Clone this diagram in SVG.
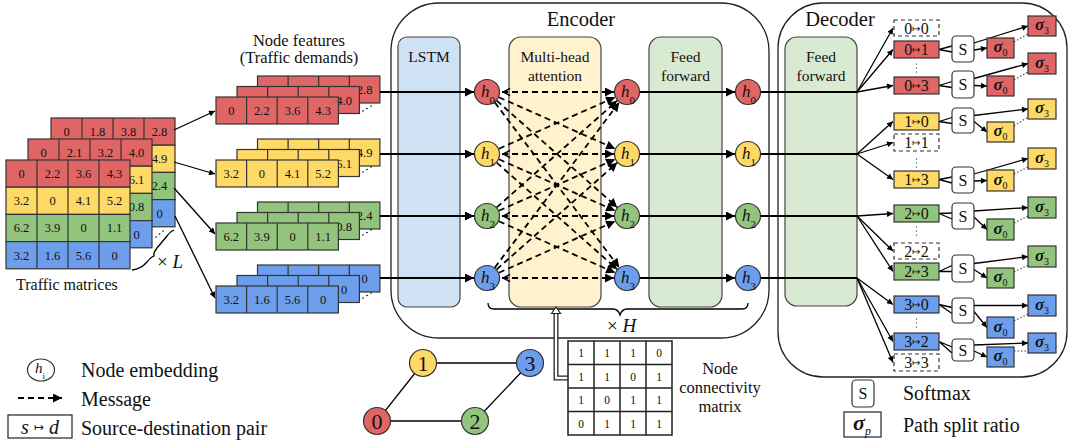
<svg xmlns="http://www.w3.org/2000/svg" xmlns:xlink="http://www.w3.org/1999/xlink" width="1069" height="443" viewBox="0 0 1069 443" font-family="'Liberation Serif','DejaVu Serif',serif">
<style>
text{font-family:"Liberation Serif","DejaVu Serif",serif;fill:#111}
.num{font-size:12.5px;text-anchor:middle}
.cb{stroke:#333;stroke-width:1.2}
.R{fill:#e06666}.Y{fill:#ffd966}.G{fill:#93c47d}.B{fill:#6d9eeb}
.gl{stroke:#333;stroke-width:1.2}
.blk{fill:none;stroke:#222;stroke-width:1.3}
.ln{fill:none;stroke:#000;stroke-width:2}
.thin{fill:none;stroke:#000;stroke-width:1.3}
.msg{fill:none;stroke:#000;stroke-width:1.8;stroke-dasharray:6 4}
.hn{stroke:#333;stroke-width:1.2}
.hl{font-size:17px;font-style:italic}
.hs{font-size:11px;font-style:normal}
.lbl{font-size:15.5px;text-anchor:middle}
.big{font-size:20.5px;text-anchor:middle}
.leg{font-size:20px}
.pb{stroke:#333;stroke-width:1.2}
.pbd{fill:#fff;stroke:#333;stroke-width:1.2;stroke-dasharray:4 3}
.pt{font-size:16px;text-anchor:middle}
.mt{font-family:"DejaVu Sans",sans-serif;font-size:10px}
.sb{fill:#fff;stroke:#333;stroke-width:1.2}
.st{font-size:16px;text-anchor:middle}
.sig{font-size:17px;font-weight:bold;font-style:italic;text-anchor:middle}
.ss{font-size:10px;font-weight:normal;font-style:normal}
.dot{fill:#000;stroke:none}
.dl{fill:none;stroke:#444;stroke-width:1.1;stroke-dasharray:1.5 2}
</style>
<defs>
<marker id="ah" viewBox="0 0 10 10" refX="10" refY="5" markerWidth="12" markerHeight="9" markerUnits="userSpaceOnUse" orient="auto"><path d="M0,0 L10,5 L0,10 z" fill="#000"/></marker>
<marker id="ahd" viewBox="0 0 10 10" refX="10" refY="5" markerWidth="11" markerHeight="9" markerUnits="userSpaceOnUse" orient="auto"><path d="M0,0 L10,5 L0,10 z" fill="#000"/></marker>
<marker id="ahs" viewBox="0 0 10 10" refX="10" refY="5" markerWidth="8" markerHeight="6" markerUnits="userSpaceOnUse" orient="auto"><path d="M0,0 L10,5 L0,10 z" fill="#000"/></marker>
<marker id="chev" viewBox="0 0 10 10" refX="0" refY="5" markerWidth="9" markerHeight="9" markerUnits="userSpaceOnUse" orient="auto"><path d="M9,1 L1,5 L9,9" fill="none" stroke="#000" stroke-width="1.6"/></marker>
<g id="tm-grid">
<rect class="R cb" x="0" y="0" width="124" height="27.2"/>
<rect class="Y cb" x="0" y="27.2" width="124" height="27.2"/>
<rect class="G cb" x="0" y="54.4" width="124" height="27.2"/>
<rect class="B cb" x="0" y="81.6" width="124" height="27.2"/>
<path class="gl" d="M31,0V108.8M62,0V108.8M93,0V108.8"/>
</g>
<path id="nf-lines" class="gl" d="M30.6,0V27M61.2,0V27M91.8,0V27"/>
</defs>
<rect width="1069" height="443" fill="#fff"/>

<!-- Traffic matrices -->
<g id="traffic-matrices">
<use xlink:href="#tm-grid" x="51" y="118"/>
<text class="num" x="66.5" y="136">0</text><text class="num" x="97.5" y="136">1.8</text><text class="num" x="128.5" y="136">3.8</text><text class="num" x="159.5" y="136">2.8</text>
<text class="num" x="159.5" y="163.2">4.9</text><text class="num" x="159.5" y="190.4">2.4</text><text class="num" x="159.5" y="217.6">0</text>
<use xlink:href="#tm-grid" x="28" y="139"/>
<text class="num" x="43.5" y="157">0</text><text class="num" x="74.5" y="157">2.1</text><text class="num" x="105.5" y="157">3.2</text><text class="num" x="136.5" y="157">4.0</text>
<text class="num" x="136.5" y="184.2">6.1</text><text class="num" x="136.5" y="211.4">0.8</text><text class="num" x="136.5" y="238.6">0</text>
<use xlink:href="#tm-grid" x="6" y="160"/>
<text class="num" x="21.5" y="178">0</text><text class="num" x="52.5" y="178">2.2</text><text class="num" x="83.5" y="178">3.6</text><text class="num" x="114.5" y="178">4.3</text>
<text class="num" x="21.5" y="205.2">3.2</text><text class="num" x="52.5" y="205.2">0</text><text class="num" x="83.5" y="205.2">4.1</text><text class="num" x="114.5" y="205.2">5.2</text>
<text class="num" x="21.5" y="232.4">6.2</text><text class="num" x="52.5" y="232.4">3.9</text><text class="num" x="83.5" y="232.4">0</text><text class="num" x="114.5" y="232.4">1.1</text>
<text class="num" x="21.5" y="259.6">3.2</text><text class="num" x="52.5" y="259.6">1.6</text><text class="num" x="83.5" y="259.6">5.6</text><text class="num" x="114.5" y="259.6">0</text>
<circle class="dot" cx="156" cy="237" r="0.8"/><circle class="dot" cx="159.5" cy="234" r="0.8"/><circle class="dot" cx="163" cy="231" r="0.8"/>
<path class="thin" stroke-width="1" d="M132,270 Q141,269 147,262 Q151,257 154,256 Q153,253 157,248 L167,236 Q171,231 174,230"/>
<text x="157" y="268" style="font-size:19px">× <tspan font-style="italic">L</tspan></text>
<text x="16" y="290" style="font-size:16px">Traffic matrices</text>
</g>

<!-- Node features -->
<g id="node-features">
<text x="299" y="46" style="font-size:16.5px" text-anchor="middle">Node features</text>
<text x="299" y="63" style="font-size:16.5px" text-anchor="middle">(Traffic demands)</text>
<rect class="R cb" x="257.5" y="76" width="122.4" height="27"/><use xlink:href="#nf-lines" x="257.5" y="76"/>
<text class="num" x="364.6" y="94">2.8</text>
<rect class="R cb" x="237" y="86.5" width="122.4" height="27"/><use xlink:href="#nf-lines" x="237" y="86.5"/>
<text class="num" x="344.1" y="104.5">4.0</text>
<rect class="R cb" x="216" y="97" width="122.4" height="27"/><use xlink:href="#nf-lines" x="216" y="97"/>
<text class="num" x="231.3" y="115">0</text><text class="num" x="261.9" y="115">2.2</text><text class="num" x="292.5" y="115">3.6</text><text class="num" x="323.1" y="115">4.3</text>
<rect class="Y cb" x="257.5" y="139" width="122.4" height="27"/><use xlink:href="#nf-lines" x="257.5" y="139"/>
<text class="num" x="364.6" y="157">4.9</text>
<rect class="Y cb" x="237" y="149.5" width="122.4" height="27"/><use xlink:href="#nf-lines" x="237" y="149.5"/>
<text class="num" x="344.1" y="167.5">6.1</text>
<rect class="Y cb" x="216" y="160" width="122.4" height="27"/><use xlink:href="#nf-lines" x="216" y="160"/>
<text class="num" x="231.3" y="178">3.2</text><text class="num" x="261.9" y="178">0</text><text class="num" x="292.5" y="178">4.1</text><text class="num" x="323.1" y="178">5.2</text>
<rect class="G cb" x="257.5" y="202" width="122.4" height="27"/><use xlink:href="#nf-lines" x="257.5" y="202"/>
<text class="num" x="364.6" y="220">2.4</text>
<rect class="G cb" x="237" y="212.5" width="122.4" height="27"/><use xlink:href="#nf-lines" x="237" y="212.5"/>
<text class="num" x="344.1" y="230.5">0.8</text>
<rect class="G cb" x="216" y="223" width="122.4" height="27"/><use xlink:href="#nf-lines" x="216" y="223"/>
<text class="num" x="231.3" y="241">6.2</text><text class="num" x="261.9" y="241">3.9</text><text class="num" x="292.5" y="241">0</text><text class="num" x="323.1" y="241">1.1</text>
<rect class="B cb" x="257.5" y="265" width="122.4" height="27"/><use xlink:href="#nf-lines" x="257.5" y="265"/>
<text class="num" x="364.6" y="283">0</text>
<rect class="B cb" x="237" y="275.5" width="122.4" height="27"/><use xlink:href="#nf-lines" x="237" y="275.5"/>
<text class="num" x="344.1" y="293.5">0</text>
<rect class="B cb" x="216" y="286" width="122.4" height="27"/><use xlink:href="#nf-lines" x="216" y="286"/>
<text class="num" x="231.3" y="304">3.2</text><text class="num" x="261.9" y="304">1.6</text><text class="num" x="292.5" y="304">5.6</text><text class="num" x="323.1" y="304">0</text>
<g>
<circle class="dot" cx="363" cy="111" r="0.8"/><circle class="dot" cx="367" cy="108.5" r="0.8"/><circle class="dot" cx="371" cy="106" r="0.8"/>
<circle class="dot" cx="363" cy="172" r="0.8"/><circle class="dot" cx="367" cy="169.5" r="0.8"/><circle class="dot" cx="371" cy="167" r="0.8"/>
<circle class="dot" cx="363" cy="235" r="0.8"/><circle class="dot" cx="367" cy="232.5" r="0.8"/><circle class="dot" cx="371" cy="230" r="0.8"/>
<circle class="dot" cx="363" cy="298" r="0.8"/><circle class="dot" cx="367" cy="295.5" r="0.8"/><circle class="dot" cx="371" cy="293" r="0.8"/>
</g>
</g>

<!-- Encoder -->
<g id="encoder">
<rect class="blk" x="391" y="3" width="378" height="335" rx="48"/>
<text class="big" x="581" y="26">Encoder</text>
<rect x="398" y="37" width="62" height="270" rx="9" fill="#cfe2f3" stroke="#444" stroke-width="1.2"/>
<text class="lbl" x="429" y="62">LSTM</text>
<rect x="509" y="37" width="92" height="270" rx="12" fill="#fff2cc" stroke="#444" stroke-width="1.2"/>
<text class="lbl" x="555" y="62">Multi-head</text>
<text class="lbl" x="555" y="81">attention</text>
<rect x="649" y="37" width="73" height="270" rx="12" fill="#d9ead3" stroke="#444" stroke-width="1.2"/>
<text class="lbl" x="685.5" y="62">Feed</text>
<text class="lbl" x="685.5" y="81">forward</text>
<path class="thin" stroke-width="1.2" d="M488,303 Q488,309 494,309 L613,309 Q618,309 620,315 Q622,309 627,309 L742,309 Q748,309 748,303"/>
<text x="607" y="332" style="font-size:19px">× <tspan font-style="italic">H</tspan></text>
</g>

<!-- Decoder frame -->
<g id="decoder">
<rect class="blk" x="778" y="3" width="289" height="374" rx="45"/>
<text class="big" x="840" y="26">Decoder</text>
<rect x="785" y="37" width="72" height="269" rx="12" fill="#d9ead3" stroke="#444" stroke-width="1.2"/>
<text class="lbl" x="821" y="62">Feed</text>
<text class="lbl" x="821" y="81">forward</text>
</g>

<!-- Connectors -->
<g id="connectors">
<line class="thin" x1="174" y1="130" x2="215" y2="111" marker-end="url(#ahs)"/>
<line class="thin" x1="174" y1="162" x2="215" y2="174" marker-end="url(#ahs)"/>
<line class="thin" x1="174" y1="188" x2="215" y2="234" marker-end="url(#ahs)"/>
<line class="thin" x1="175" y1="216" x2="215" y2="298" marker-end="url(#ahs)"/>

<line class="ln" x1="380" y1="92" x2="474" y2="92" marker-end="url(#ah)"/>
<line class="ln" x1="380" y1="154" x2="474" y2="154" marker-end="url(#ah)"/>
<line class="ln" x1="380" y1="216" x2="474" y2="216" marker-end="url(#ah)"/>
<line class="ln" x1="380" y1="278" x2="474" y2="278" marker-end="url(#ah)"/>

<g marker-end="url(#ahd)">
<line class="msg" x1="502" y1="92" x2="614" y2="92" marker-start="url(#chev)"/>
<line class="msg" x1="502" y1="154" x2="614" y2="154" marker-start="url(#chev)"/>
<line class="msg" x1="502" y1="216" x2="614" y2="216" marker-start="url(#chev)"/>
<line class="msg" x1="502" y1="278" x2="614" y2="278" marker-start="url(#chev)"/>
<line class="msg" x1="498.9" y1="97.3" x2="615.1" y2="148.7"/>
<line class="msg" x1="496.7" y1="100.6" x2="617.3" y2="207.4"/>
<line class="msg" x1="494.8" y1="102.4" x2="619.2" y2="267.6"/>
<line class="msg" x1="498.9" y1="148.7" x2="615.1" y2="97.3"/>
<line class="msg" x1="498.9" y1="159.3" x2="615.1" y2="210.7"/>
<line class="msg" x1="496.7" y1="162.6" x2="617.3" y2="269.4"/>
<line class="msg" x1="496.7" y1="207.4" x2="617.3" y2="100.6"/>
<line class="msg" x1="498.9" y1="210.7" x2="615.1" y2="159.3"/>
<line class="msg" x1="498.9" y1="221.3" x2="615.1" y2="272.7"/>
<line class="msg" x1="494.8" y1="267.6" x2="619.2" y2="102.4"/>
<line class="msg" x1="496.7" y1="269.4" x2="617.3" y2="162.6"/>
<line class="msg" x1="498.9" y1="272.7" x2="615.1" y2="221.3"/>
</g>

<line class="ln" x1="640" y1="92" x2="735" y2="92" marker-end="url(#ah)"/>
<line class="ln" x1="640" y1="154" x2="735" y2="154" marker-end="url(#ah)"/>
<line class="ln" x1="640" y1="216" x2="735" y2="216" marker-end="url(#ah)"/>
<line class="ln" x1="640" y1="278" x2="735" y2="278" marker-end="url(#ah)"/>

<line class="ln" x1="761" y1="92" x2="857" y2="92"/>
<line class="ln" x1="761" y1="154" x2="857" y2="154"/>
<line class="ln" x1="761" y1="216" x2="857" y2="216"/>
<line class="ln" x1="761" y1="278" x2="857" y2="278"/>

<g marker-end="url(#ahs)">
<line class="thin" x1="857" y1="92" x2="893" y2="28"/>
<line class="thin" x1="857" y1="92" x2="893" y2="49.5"/>
<line class="thin" x1="857" y1="92" x2="893" y2="85.5"/>
<line class="thin" x1="857" y1="154" x2="893" y2="121.5"/>
<line class="thin" x1="857" y1="154" x2="893" y2="142.5"/>
<line class="thin" x1="857" y1="154" x2="893" y2="179.5"/>
<line class="thin" x1="857" y1="216" x2="893" y2="213.5"/>
<line class="thin" x1="857" y1="216" x2="893" y2="251"/>
<line class="thin" x1="857" y1="216" x2="893" y2="271.5"/>
<line class="thin" x1="857" y1="278" x2="893" y2="304.5"/>
<line class="thin" x1="857" y1="278" x2="893" y2="341.5"/>
<line class="thin" x1="857" y1="278" x2="893" y2="362.5"/>
</g>

<path class="thin" stroke-width="1.1" d="M939,49.5 L952,46 M939,49.5 L952,52 M939,85.5 L952,81.5 M939,85.5 L952,87.5 M939,121.5 L952,117.5 M939,121.5 L952,123.5 M939,179.5 L952,177 M939,179.5 L952,183 M939,213.5 L952,213 M939,213.5 L952,219 M939,271.5 L952,265.5 M939,271.5 L952,271.5 M939,304.5 L952,307.5 M939,304.5 L952,313.5 M939,341.5 L952,347 M939,341.5 L952,353"/>
<g marker-end="url(#ahs)">
<line class="thin" stroke-width="1.1" x1="974" y1="43" x2="1028" y2="26"/>
<line class="thin" stroke-width="1.1" x1="974" y1="50" x2="987" y2="48"/>
<line class="thin" stroke-width="1.1" x1="974" y1="78.5" x2="1028" y2="63.5"/>
<line class="thin" stroke-width="1.1" x1="974" y1="85.5" x2="987" y2="86"/>
<line class="thin" stroke-width="1.1" x1="974" y1="115.5" x2="1028" y2="109"/>
<line class="thin" stroke-width="1.1" x1="974" y1="121.5" x2="987" y2="132"/>
<line class="thin" stroke-width="1.1" x1="974" y1="174" x2="1028" y2="158.5"/>
<line class="thin" stroke-width="1.1" x1="974" y1="181" x2="987" y2="180.5"/>
<line class="thin" stroke-width="1.1" x1="974" y1="211" x2="1028" y2="207.5"/>
<line class="thin" stroke-width="1.1" x1="974" y1="217" x2="987" y2="229.5"/>
<line class="thin" stroke-width="1.1" x1="974" y1="263.5" x2="1028" y2="256.5"/>
<line class="thin" stroke-width="1.1" x1="974" y1="269.5" x2="987" y2="278"/>
<line class="thin" stroke-width="1.1" x1="974" y1="305.5" x2="1028" y2="305.5"/>
<line class="thin" stroke-width="1.1" x1="974" y1="311.5" x2="987" y2="327.5"/>
<line class="thin" stroke-width="1.1" x1="974" y1="345" x2="1028" y2="343"/>
<line class="thin" stroke-width="1.1" x1="974" y1="351" x2="987" y2="357"/>
</g>
<path class="dl" d="M1014,42L1028,34M1014,80L1028,72M1014,126L1028,117M1014,174L1028,167M1014,223L1028,216M1014,272L1028,265M1014,321L1028,314M1014,351L1028,351"/>

<path d="M568,378 L556,378 L556,312" fill="none" stroke="#222" stroke-width="5"/>
<path d="M568,378 L556,378 L556,312" fill="none" stroke="#fff" stroke-width="2.4"/>
<path d="M551.5,313.5 L556,307 L560.5,313.5 Z" fill="#fff" stroke="#222" stroke-width="1.2"/>
</g>

<!-- h nodes -->
<g id="h-col1">
<circle class="hn R" cx="487" cy="92" r="12.5"/><text class="hl" x="481" y="96.5">h<tspan class="hs" dy="7">0</tspan></text>
<circle class="hn Y" cx="487" cy="154" r="12.5"/><text class="hl" x="481" y="158.5">h<tspan class="hs" dy="7">1</tspan></text>
<circle class="hn G" cx="487" cy="216" r="12.5"/><text class="hl" x="481" y="220.5">h<tspan class="hs" dy="7">2</tspan></text>
<circle class="hn B" cx="487" cy="278" r="12.5"/><text class="hl" x="481" y="282.5">h<tspan class="hs" dy="7">3</tspan></text>
</g>
<g id="h-col2">
<circle class="hn R" cx="627" cy="92" r="12.5"/><text class="hl" x="621" y="96.5">h<tspan class="hs" dy="7">0</tspan></text>
<circle class="hn Y" cx="627" cy="154" r="12.5"/><text class="hl" x="621" y="158.5">h<tspan class="hs" dy="7">1</tspan></text>
<circle class="hn G" cx="627" cy="216" r="12.5"/><text class="hl" x="621" y="220.5">h<tspan class="hs" dy="7">2</tspan></text>
<circle class="hn B" cx="627" cy="278" r="12.5"/><text class="hl" x="621" y="282.5">h<tspan class="hs" dy="7">3</tspan></text>
</g>
<g id="h-col3">
<circle class="hn R" cx="748" cy="92" r="12.5"/><text class="hl" x="742" y="96.5">h<tspan class="hs" dy="7">0</tspan></text>
<circle class="hn Y" cx="748" cy="154" r="12.5"/><text class="hl" x="742" y="158.5">h<tspan class="hs" dy="7">1</tspan></text>
<circle class="hn G" cx="748" cy="216" r="12.5"/><text class="hl" x="742" y="220.5">h<tspan class="hs" dy="7">2</tspan></text>
<circle class="hn B" cx="748" cy="278" r="12.5"/><text class="hl" x="742" y="282.5">h<tspan class="hs" dy="7">3</tspan></text>
</g>

<!-- Decoder outputs -->
<g id="dec-node0">
<rect class="pbd" x="894" y="20" width="45" height="16"/><text class="pt" x="916.5" y="33.5">0<tspan class="mt" dy="-2">↦</tspan><tspan dy="2">0</tspan></text>
<rect class="pb R" x="894" y="41" width="45" height="17"/><text class="pt" x="916.5" y="55">0<tspan class="mt" dy="-2">↦</tspan><tspan dy="2">1</tspan></text>
<circle class="dot" cx="916.5" cy="64" r="0.6"/><circle class="dot" cx="916.5" cy="68" r="0.6"/><circle class="dot" cx="916.5" cy="72" r="0.6"/>
<rect class="pb R" x="894" y="77" width="45" height="17"/><text class="pt" x="916.5" y="91">0<tspan class="mt" dy="-2">↦</tspan><tspan dy="2">3</tspan></text>
<rect class="sb" x="952" y="36" width="22" height="26" rx="4"/><text class="st" x="963" y="54.5">S</text>
<rect class="sb" x="952" y="71" width="22" height="27" rx="4"/><text class="st" x="963" y="90">S</text>
<rect class="pb R" x="1028" y="16" width="28" height="20"/><text class="sig" x="1042" y="30">σ<tspan class="ss" dy="4">3</tspan></text>
<rect class="pb R" x="987" y="38" width="27" height="20"/><text class="sig" x="1000.5" y="52">σ<tspan class="ss" dy="4">0</tspan></text>
<rect class="pb R" x="1028" y="53" width="28" height="21"/><text class="sig" x="1042" y="67.5">σ<tspan class="ss" dy="4">3</tspan></text>
<rect class="pb R" x="987" y="76" width="27" height="20"/><text class="sig" x="1000.5" y="90">σ<tspan class="ss" dy="4">0</tspan></text>
</g>
<g id="dec-node1">
<rect class="pb Y" x="894" y="113" width="45" height="17"/><text class="pt" x="916.5" y="127">1<tspan class="mt" dy="-2">↦</tspan><tspan dy="2">0</tspan></text>
<rect class="pbd" x="894" y="134" width="45" height="17"/><text class="pt" x="916.5" y="148">1<tspan class="mt" dy="-2">↦</tspan><tspan dy="2">1</tspan></text>
<circle class="dot" cx="916.5" cy="159" r="0.6"/><circle class="dot" cx="916.5" cy="163" r="0.6"/><circle class="dot" cx="916.5" cy="167" r="0.6"/>
<rect class="pb Y" x="894" y="171" width="45" height="17"/><text class="pt" x="916.5" y="185">1<tspan class="mt" dy="-2">↦</tspan><tspan dy="2">3</tspan></text>
<rect class="sb" x="952" y="108" width="22" height="25" rx="4"/><text class="st" x="963" y="126">S</text>
<rect class="sb" x="952" y="167" width="22" height="26" rx="4"/><text class="st" x="963" y="185.5">S</text>
<rect class="pb Y" x="1028" y="99" width="28" height="20"/><text class="sig" x="1042" y="113">σ<tspan class="ss" dy="4">3</tspan></text>
<rect class="pb Y" x="987" y="122" width="27" height="20"/><text class="sig" x="1000.5" y="136">σ<tspan class="ss" dy="4">0</tspan></text>
<rect class="pb Y" x="1028" y="148" width="28" height="21"/><text class="sig" x="1042" y="162.5">σ<tspan class="ss" dy="4">3</tspan></text>
<rect class="pb Y" x="987" y="170" width="27" height="21"/><text class="sig" x="1000.5" y="184.5">σ<tspan class="ss" dy="4">0</tspan></text>
</g>
<g id="dec-node2">
<rect class="pb G" x="894" y="205" width="45" height="17"/><text class="pt" x="916.5" y="219">2<tspan class="mt" dy="-2">↦</tspan><tspan dy="2">0</tspan></text>
<circle class="dot" cx="916.5" cy="227" r="0.6"/><circle class="dot" cx="916.5" cy="231" r="0.6"/><circle class="dot" cx="916.5" cy="235" r="0.6"/>
<rect class="pbd" x="894" y="243" width="45" height="16"/><text class="pt" x="916.5" y="256.5">2<tspan class="mt" dy="-2">↦</tspan><tspan dy="2">2</tspan></text>
<rect class="pb G" x="894" y="263" width="45" height="17"/><text class="pt" x="916.5" y="277">2<tspan class="mt" dy="-2">↦</tspan><tspan dy="2">3</tspan></text>
<rect class="sb" x="952" y="203" width="22" height="26" rx="4"/><text class="st" x="963" y="221.5">S</text>
<rect class="sb" x="952" y="255" width="22" height="27" rx="4"/><text class="st" x="963" y="274">S</text>
<rect class="pb G" x="1028" y="197" width="28" height="21"/><text class="sig" x="1042" y="211.5">σ<tspan class="ss" dy="4">3</tspan></text>
<rect class="pb G" x="987" y="219" width="27" height="21"/><text class="sig" x="1000.5" y="233.5">σ<tspan class="ss" dy="4">0</tspan></text>
<rect class="pb G" x="1028" y="246" width="28" height="21"/><text class="sig" x="1042" y="260.5">σ<tspan class="ss" dy="4">3</tspan></text>
<rect class="pb G" x="987" y="268" width="27" height="20"/><text class="sig" x="1000.5" y="282">σ<tspan class="ss" dy="4">0</tspan></text>
</g>
<g id="dec-node3">
<rect class="pb B" x="894" y="296" width="45" height="17"/><text class="pt" x="916.5" y="310">3<tspan class="mt" dy="-2">↦</tspan><tspan dy="2">0</tspan></text>
<circle class="dot" cx="916.5" cy="319" r="0.6"/><circle class="dot" cx="916.5" cy="323" r="0.6"/><circle class="dot" cx="916.5" cy="327" r="0.6"/>
<rect class="pb B" x="894" y="333" width="45" height="17"/><text class="pt" x="916.5" y="347">3<tspan class="mt" dy="-2">↦</tspan><tspan dy="2">2</tspan></text>
<rect class="pbd" x="894" y="354" width="45" height="17"/><text class="pt" x="916.5" y="368">3<tspan class="mt" dy="-2">↦</tspan><tspan dy="2">3</tspan></text>
<rect class="sb" x="952" y="298" width="22" height="25" rx="4"/><text class="st" x="963" y="316">S</text>
<rect class="sb" x="952" y="339" width="22" height="22" rx="4"/><text class="st" x="963" y="355.5">S</text>
<rect class="pb B" x="1028" y="295" width="28" height="21"/><text class="sig" x="1042" y="309.5">σ<tspan class="ss" dy="4">3</tspan></text>
<rect class="pb B" x="987" y="317" width="27" height="21"/><text class="sig" x="1000.5" y="331.5">σ<tspan class="ss" dy="4">0</tspan></text>
<rect class="pb B" x="1028" y="333" width="28" height="20"/><text class="sig" x="1042" y="347">σ<tspan class="ss" dy="4">3</tspan></text>
<rect class="pb B" x="987" y="347" width="27" height="20"/><text class="sig" x="1000.5" y="361">σ<tspan class="ss" dy="4">0</tspan></text>
</g>

<!-- Graph -->
<g id="graph">
<path class="thin" stroke-width="1.2" d="M423,363 L530,363 M423,363 L377,421 L475,421 L530,363"/>
<circle class="hn R" cx="377" cy="421" r="13.5"/><text x="377" y="428.5" style="font-size:22px" text-anchor="middle">0</text>
<circle class="hn Y" cx="423" cy="363" r="13.5"/><text x="423" y="370.5" style="font-size:22px" text-anchor="middle">1</text>
<circle class="hn G" cx="475" cy="421" r="13.5"/><text x="475" y="428.5" style="font-size:22px" text-anchor="middle">2</text>
<circle class="hn B" cx="530" cy="363" r="13.5"/><text x="530" y="370.5" style="font-size:22px" text-anchor="middle">3</text>
</g>

<!-- Connectivity matrix -->
<g id="conn-matrix">
<rect x="568" y="341" width="104" height="94" fill="#fff" stroke="#222" stroke-width="1.5"/>
<path stroke="#222" stroke-width="1.5" d="M594,341V435M620,341V435M646,341V435M568,364.5H672M568,388H672M568,411.5H672"/>
<g style="font-size:11.5px" text-anchor="middle">
<text x="581" y="357">1</text><text x="607" y="357">1</text><text x="633" y="357">1</text><text x="659" y="357">0</text>
<text x="581" y="380.5">1</text><text x="607" y="380.5">1</text><text x="633" y="380.5">0</text><text x="659" y="380.5">1</text>
<text x="581" y="404">1</text><text x="607" y="404">0</text><text x="633" y="404">1</text><text x="659" y="404">1</text>
<text x="581" y="427.5">0</text><text x="607" y="427.5">1</text><text x="633" y="427.5">1</text><text x="659" y="427.5">1</text>
</g>
<text x="720" y="374" style="font-size:16.5px" text-anchor="middle">Node</text>
<text x="720" y="393" style="font-size:16.5px" text-anchor="middle">connectivity</text>
<text x="720" y="412" style="font-size:16.5px" text-anchor="middle">matrix</text>
</g>

<!-- Legend left -->
<g id="legend-left">
<ellipse class="hn" fill="#fff" cx="41" cy="370" rx="13.5" ry="11"/>
<text class="hl" x="35" y="373" style="font-size:15px">h<tspan class="hs" dy="6" style="font-size:9px">i</tspan></text>
<text class="leg" x="81" y="377">Node embedding</text>
<line class="msg" x1="18" y1="398" x2="62" y2="398" stroke-dasharray="5 4" marker-end="url(#ahd)"/>
<text class="leg" x="81" y="406">Message</text>
<rect x="8" y="415" width="64" height="23" fill="#fff" stroke="#222" stroke-width="1.2"/>
<text x="40" y="434" style="font-size:20px" text-anchor="middle"><tspan font-style="italic">s</tspan> <tspan class="mt" dy="-3" style="font-size:12px">↦</tspan> <tspan dy="3" font-style="italic">d</tspan></text>
<text class="leg" x="81" y="435">Source-destination pair</text>
</g>

<!-- Legend right -->
<g id="legend-right">
<rect class="sb" x="852" y="380" width="22" height="27" rx="4"/><text class="st" x="863" y="399">S</text>
<text class="leg" x="903" y="400">Softmax</text>
<rect x="844" y="412" width="37" height="25" fill="#fff" stroke="#222" stroke-width="1.2"/>
<text x="862" y="430" style="font-size:22px;font-weight:bold;font-style:italic" text-anchor="middle">σ<tspan dy="5" style="font-size:12px;font-weight:normal">p</tspan></text>
<text class="leg" x="903" y="432">Path split ratio</text>
</g>
</svg>
